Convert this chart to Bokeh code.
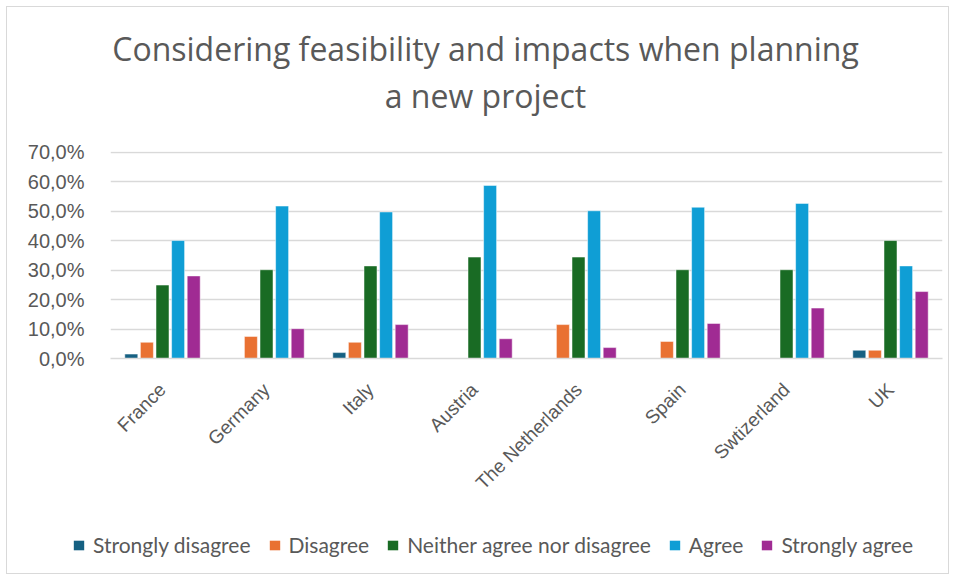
import math
from bokeh.plotting import figure
from bokeh.layouts import column
from bokeh.models import ColumnDataSource, FactorRange, Range1d, FixedTicker, CustomJSTickFormatter, Legend, LegendItem, Div
from bokeh.transform import dodge
from bokeh.embed import file_html
from bokeh.resources import INLINE

countries = ["France", "Germany", "Italy", "Austria", "The Netherlands", "Spain", "Swtizerland", "UK"]
strongly_disagree = [1.5, 0.0, 2.0, 0.0, 0.0, 0.0, 0.0, 2.8]
disagree = [5.5, 7.5, 5.5, 0.0, 11.5, 5.8, 0.0, 2.8]
neither = [24.9, 30.1, 31.4, 34.4, 34.4, 30.1, 30.1, 40.0]
agree = [40.0, 51.7, 49.7, 58.7, 50.1, 51.3, 52.6, 31.4]
strongly_agree = [28.0, 10.1, 11.5, 6.7, 3.7, 11.9, 17.1, 22.7]
series_names = ["Strongly disagree", "Disagree", "Neither agree nor disagree", "Agree", "Strongly agree"]
y_ticks = [0, 10, 20, 30, 40, 50, 60, 70]
title_lines = ["Considering feasibility and impacts when planning", "a new project"]

colors = ["#156082", "#e97132", "#196b24", "#0f9ed5", "#a02b93"]
keys = ["sd", "d", "n", "a", "sa"]
offsets = [-0.3, -0.15, 0.0, 0.15, 0.3]

source = ColumnDataSource(data=dict(country=countries, sd=strongly_disagree, d=disagree,
                                    n=neither, a=agree, sa=strongly_agree))

W = 941
title_html = ("<div style=\"box-sizing:border-box;width:%dpx;text-align:center;font-family:'Open Sans';"
              "font-size:32px;line-height:47px;color:#595959;padding-top:18px;padding-left:16px;\">%s</div>"
              % (W, "<br>".join(title_lines)))
title_div = Div(text=title_html, width=W, height=120, margin=0)

p = figure(x_range=FactorRange(*countries, range_padding=0), y_range=Range1d(0, 70.2),
           width=W, height=392, output_backend="svg", toolbar_location=None,
           min_border_left=103, min_border_right=6, min_border_top=24, min_border_bottom=161)

for k, off, c in zip(keys, offsets, colors):
    p.vbar(x=dodge("country", off, range=p.x_range), top=k, width=0.125, source=source,
           fill_color=c, line_color="white", line_width=0.5)

p.yaxis.ticker = FixedTicker(ticks=y_ticks)
p.yaxis.formatter = CustomJSTickFormatter(code="return tick.toFixed(1).replace('.', ',') + '%';")
p.yaxis.axis_line_color = None
p.yaxis.major_tick_line_color = None
p.yaxis.minor_tick_line_color = None
p.yaxis.major_label_text_font = "Liberation Sans"
p.yaxis.major_label_text_font_size = "20px"
p.yaxis.major_label_text_color = "#595959"
p.yaxis.major_label_standoff = 20

p.xaxis.axis_line_color = "#d9d9d9"
p.xaxis.axis_line_width = 1.5
p.xaxis.major_tick_line_color = None
p.xaxis.minor_tick_line_color = None
p.xaxis.major_label_orientation = math.pi / 4
p.xaxis.major_label_text_font = "Liberation Sans"
p.xaxis.major_label_text_font_size = "19px"
p.xaxis.major_label_text_color = "#595959"
p.xaxis.major_label_standoff = 22

p.xgrid.grid_line_color = None
p.ygrid.grid_line_color = "#d9d9d9"
p.ygrid.grid_line_width = 1.5
p.outline_line_color = None

# legend strip below the chart (same series, off-range so only the legend shows)
lf = figure(x_range=FactorRange(*countries, range_padding=0), y_range=Range1d(1000, 1001),
            width=W, height=54, output_backend="svg", toolbar_location=None, min_border=0,
            x_axis_location=None, y_axis_location=None)
lf.frame_align = False
items = []
for k, off, c, name in zip(keys, offsets, colors, series_names):
    r = lf.vbar(x=dodge("country", off, range=lf.x_range), top=k, width=0.125, source=source,
                fill_color=c, line_color=None)
    items.append(LegendItem(label=name, renderers=[r]))
legend = Legend(items=items, orientation="horizontal", location=(65, 16),
                label_text_font="Lato", label_text_font_size="21px", label_text_color="#595959",
                glyph_width=13, glyph_height=12, label_standoff=8, spacing=17,
                border_line_color=None, background_fill_alpha=0, margin=0, padding=0)
lf.add_layout(legend, "center")
lf.grid.visible = False
lf.outline_line_color = None

layout = column(title_div, p, lf, spacing=0)
layout.styles = {"border": "1px solid #d9d9d9", "margin": "6px 0 0 6px"}

open("out.html", "w").write(file_html(layout, INLINE))
